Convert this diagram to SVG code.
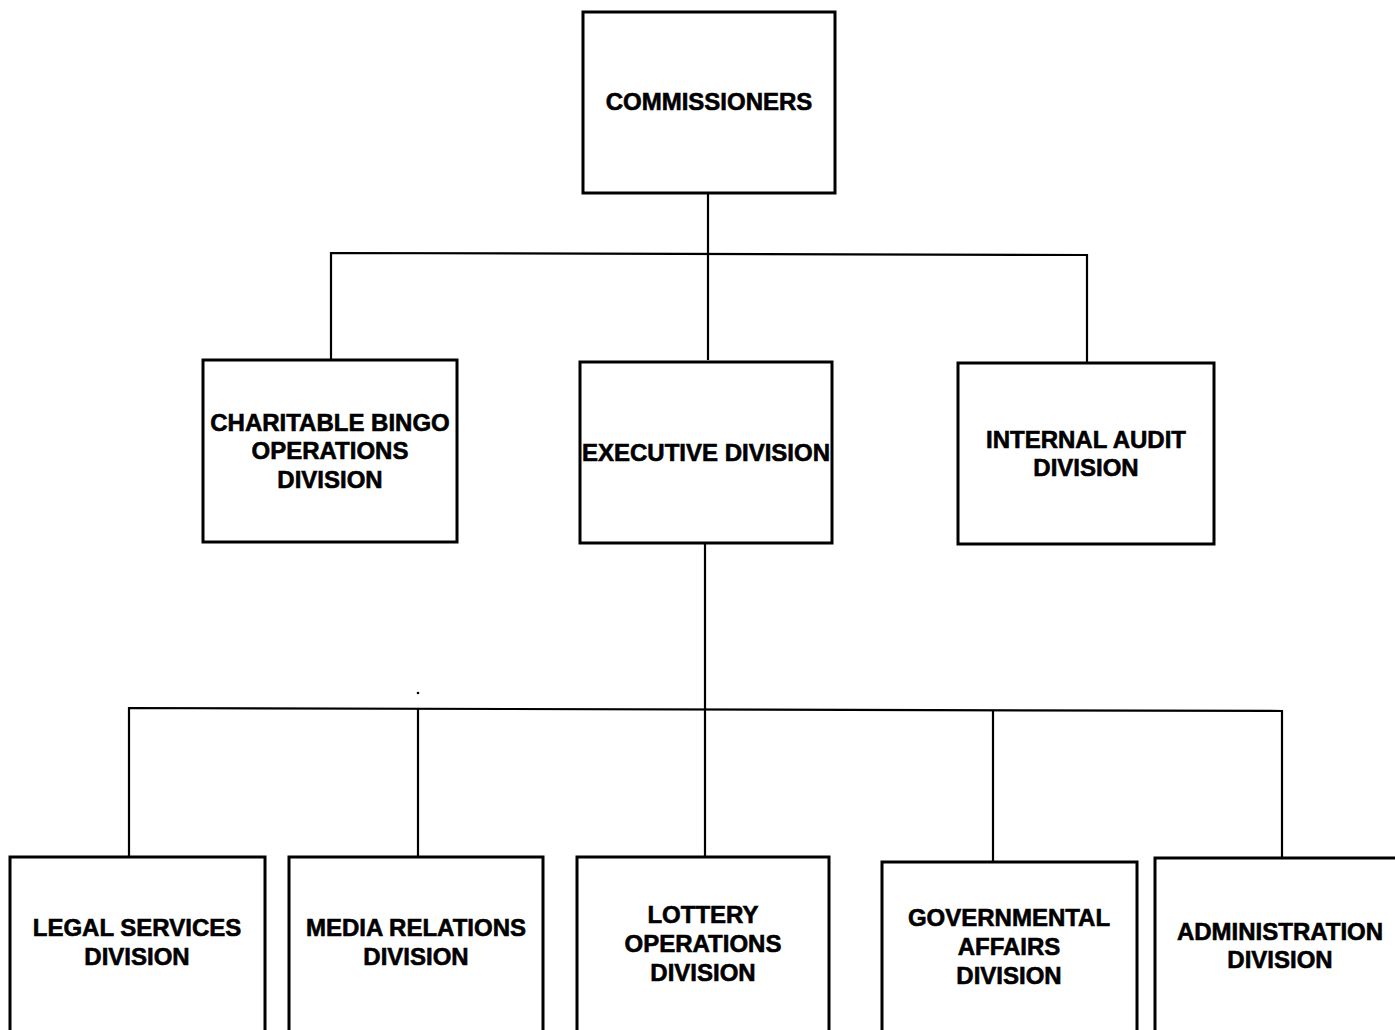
<svg xmlns="http://www.w3.org/2000/svg" width="1395" height="1030" viewBox="0 0 1395 1030">
<style>
.box{fill:#fff;stroke:#000;stroke-width:3}
.lbl{font-family:"Liberation Sans",Arial,sans-serif;font-weight:bold;font-size:24px;text-anchor:middle;fill:#000;stroke:#000;stroke-width:0.6}
.con{fill:none;stroke:#000;stroke-width:2.2}
</style>
<rect width="1395" height="1030" fill="#fff"/>
<g id="connectors">
<path class="con" d="M708 193 V360"/>
<path class="con" d="M331 360 V253 L1087 255 V363"/>
<path class="con" d="M705 543 V857"/>
<path class="con" d="M129 857 V708 L1282 711 V858"/>
<path class="con" d="M418 857 V709"/>
<path class="con" d="M993 862 V710"/>
<circle cx="418" cy="693" r="1.3" fill="#000"/>
</g>
<g id="commissioners"><rect class="box" x="583" y="12" width="252" height="181"/><text class="lbl" x="709" y="110">COMMISSIONERS</text></g>
<g id="charitable-bingo"><rect class="box" x="203" y="360" width="254" height="182"/><text class="lbl" x="330" y="431">CHARITABLE BINGO</text><text class="lbl" x="330" y="459">OPERATIONS</text><text class="lbl" x="330" y="488">DIVISION</text></g>
<g id="executive"><rect class="box" x="580" y="362" width="252" height="181"/><text class="lbl" x="706" y="461">EXECUTIVE DIVISION</text></g>
<g id="internal-audit"><rect class="box" x="958" y="363" width="256" height="181"/><text class="lbl" x="1086" y="448">INTERNAL AUDIT</text><text class="lbl" x="1086" y="476">DIVISION</text></g>
<g id="legal"><rect class="box" x="10" y="857" width="255" height="190"/><text class="lbl" x="137" y="936">LEGAL SERVICES</text><text class="lbl" x="137" y="965">DIVISION</text></g>
<g id="media"><rect class="box" x="289" y="857" width="254" height="190"/><text class="lbl" x="416" y="936">MEDIA RELATIONS</text><text class="lbl" x="416" y="965">DIVISION</text></g>
<g id="lottery"><rect class="box" x="577" y="857" width="252" height="190"/><text class="lbl" x="703" y="923">LOTTERY</text><text class="lbl" x="703" y="952">OPERATIONS</text><text class="lbl" x="703" y="981">DIVISION</text></g>
<g id="governmental"><rect class="box" x="882" y="862" width="255" height="190"/><text class="lbl" x="1009" y="926">GOVERNMENTAL</text><text class="lbl" x="1009" y="955">AFFAIRS</text><text class="lbl" x="1009" y="984">DIVISION</text></g>
<g id="administration"><rect class="box" x="1155" y="858" width="260" height="190"/><text class="lbl" x="1280" y="940">ADMINISTRATION</text><text class="lbl" x="1280" y="968">DIVISION</text></g>
</svg>
